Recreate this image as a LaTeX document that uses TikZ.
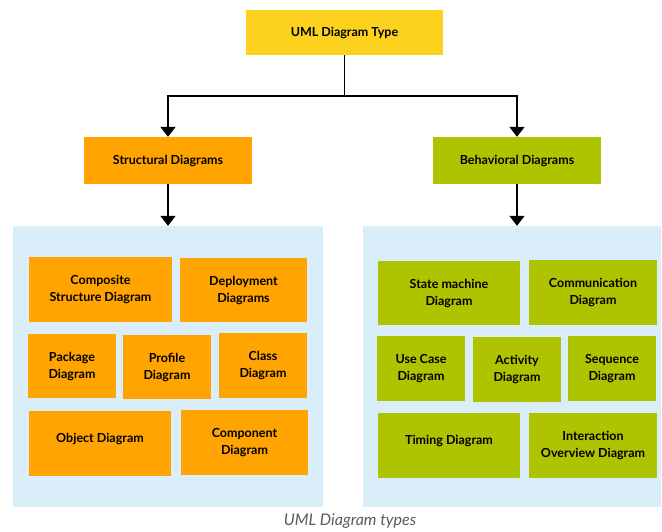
\documentclass[tikz,border=0pt]{standalone}
\usepackage{fontspec}
\setmainfont{Lato}
\usetikzlibrary{arrows.meta}
\definecolor{umlyellow}{HTML}{FCD21E}
\definecolor{umlorange}{HTML}{FFA400}
\definecolor{umlgreen}{HTML}{AFC400}
\definecolor{umlpanel}{HTML}{D9EEF9}
\definecolor{umlcaption}{HTML}{5A5A5A}

\begin{document}
\begin{tikzpicture}[x=1pt,y=-1pt,
  kind/.style={inner sep=0pt,align=center,font=\fontsize{12.5}{17}\selectfont\bfseries},
  toptype/.style={kind,fill=umlyellow,minimum width=197pt,minimum height=45pt},
  structbox/.style={kind,fill=umlorange},
  behavbox/.style={kind,fill=umlgreen},
  oneline/.style={text depth=12pt},
  panel/.style={fill=umlpanel,inner sep=0pt},
  flow/.style={line width=1.8pt,-{Triangle[width=15pt,length=10pt]}}]
\useasboundingbox (0,0) rectangle (662,531);
%panels
\node[panel,minimum width=310pt,minimum height=281pt] (lpanel) at (168,366.5) {};
\node[panel,minimum width=298pt,minimum height=281pt] (rpanel) at (512,366.5) {};
%top
\node[toptype] (uml) at (344.5,32.5) {UML Diagram Type};
\node[structbox,minimum width=168pt,minimum height=47pt] (struct) at (168,160.5) {Structural Diagrams};
\node[behavbox,minimum width=168pt,minimum height=47pt] (behav) at (517,160.5) {Behavioral Diagrams};
\coordinate (split) at (344.5,96);
\draw[line width=1.8pt] (uml.south) -- (split);
\draw[flow] (split) -| (struct.north);
\draw[flow] (split) -| (behav.north);
\draw[flow] (struct.south) -- (struct.south |- lpanel.north);
\draw[flow] (behav.south) -- (behav.south |- rpanel.north);
%structural
\node[structbox,minimum width=143pt,minimum height=65pt] (composite) at (100.5,289.5) {Composite\\Structure Diagram};
\node[structbox,minimum width=127pt,minimum height=64pt] (deploy) at (243.5,290) {Deployment\\Diagrams};
\node[structbox,minimum width=88pt,minimum height=64pt] (package) at (72,366) {Package\\Diagram};
\node[structbox,minimum width=88pt,minimum height=64pt] (profile) at (167,367) {Profile\\Diagram};
\node[structbox,minimum width=88pt,minimum height=65pt] (class) at (263,365.5) {Class\\Diagram};
\node[structbox,oneline,minimum width=142pt,minimum height=65pt] (object) at (100,443.5) {Object Diagram};
\node[structbox,minimum width=127pt,minimum height=65pt] (component) at (244.5,442.5) {Component\\Diagram};
%behavioral
\node[behavbox,minimum width=142pt,minimum height=64pt] (state) at (449,293) {State machine\\Diagram};
\node[behavbox,minimum width=128pt,minimum height=65pt] (communication) at (593,292.5) {Communication\\Diagram};
\node[behavbox,minimum width=88pt,minimum height=65pt] (usecase) at (421,368.5) {Use Case\\Diagram};
\node[behavbox,minimum width=88pt,minimum height=65pt] (activity) at (517,369.5) {Activity\\Diagram};
\node[behavbox,minimum width=88pt,minimum height=65pt] (sequence) at (612,368.5) {Sequence\\Diagram};
\node[behavbox,oneline,minimum width=142pt,minimum height=65pt] (timing) at (449,445.5) {Timing Diagram};
\node[behavbox,minimum width=128pt,minimum height=65pt] (interaction) at (593,445.5) {Interaction\\Overview Diagram};
%caption
\node[inner sep=0pt,text=umlcaption,font=\fontsize{16}{18}\selectfont\itshape] (caption) at (350,521) {UML Diagram types};
\end{tikzpicture}
\end{document}
